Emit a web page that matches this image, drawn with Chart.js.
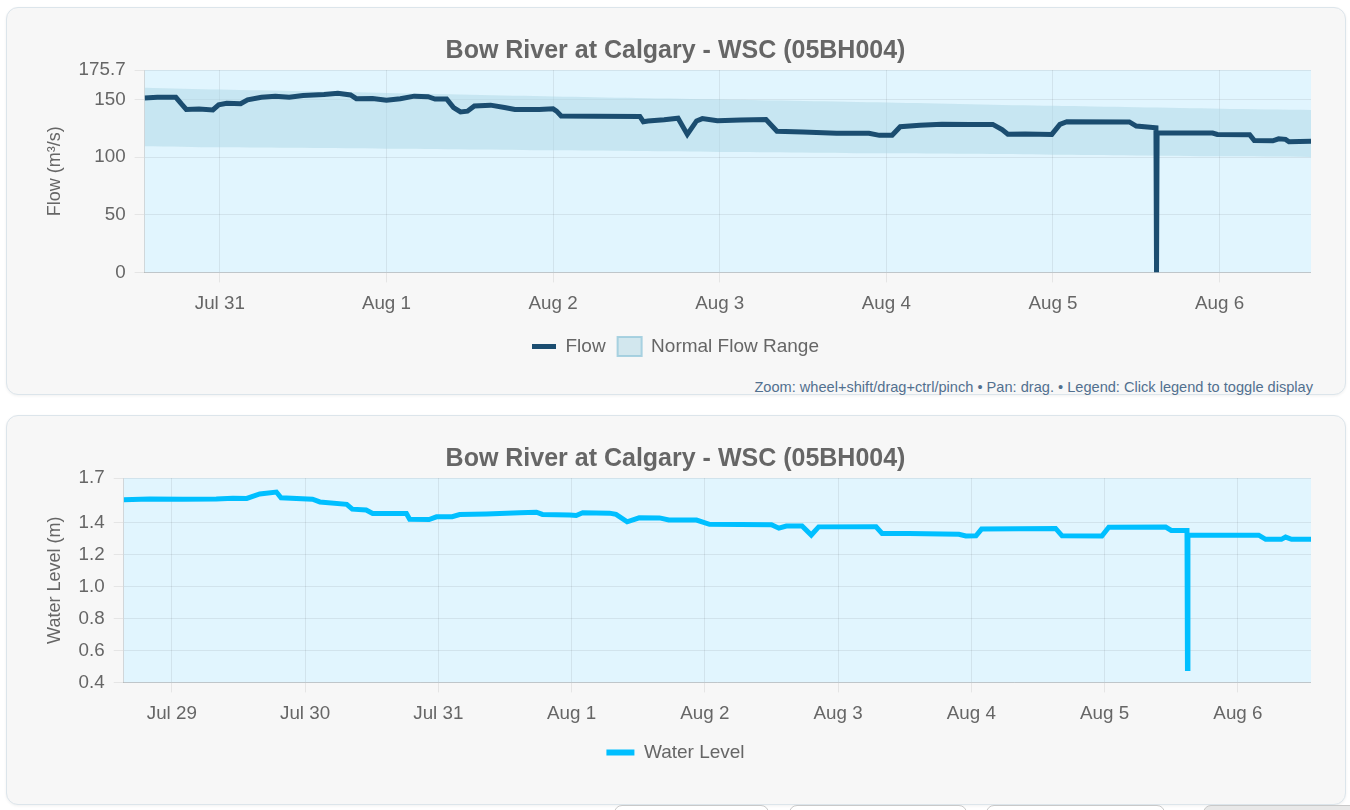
<!DOCTYPE html>
<html>
<head>
<meta charset="utf-8">
<title>Bow River at Calgary</title>
<script src="https://cdn.jsdelivr.net/npm/chart.js@4.4.1/dist/chart.umd.min.js"></script>
<style>
  html, body { margin: 0; padding: 0; background: #fff; overflow: hidden; }
  body { width: 1350px; height: 810px; position: relative; font-family: 'Liberation Sans', Arial, Helvetica, sans-serif; }
  .card {
    position: absolute; left: 6px; width: 1340px; box-sizing: border-box;
    background: #f7f7f7; border: 1px solid #dce5eb; border-radius: 12px;
    box-shadow: 0 1px 3px rgba(0,0,0,0.06);
  }
  .wrap { position: absolute; left: 33px; top: 16px; width: 1271px; }
  .hint {
    position: absolute; right: 32px; top: 371px;
    font-size: 14.6px; color: #52708f; white-space: nowrap;
  }
  .btn {
    position: absolute; top: 805px; height: 30px; box-sizing: border-box;
    background: #fff; border: 1px solid #c9c9c9; border-radius: 8px;
  }
</style>
</head>
<body>

<div class="card" style="top:7px; height:388px;">
  <div class="wrap" style="height:342px;"><canvas id="flowChart"></canvas></div>
  <div class="hint">Zoom: wheel+shift/drag+ctrl/pinch &bull; Pan: drag. &bull; Legend: Click legend to toggle display</div>
</div>

<div class="card" style="top:415px; height:390px;">
  <div class="wrap" style="height:340px;"><canvas id="levelChart"></canvas></div>
</div>

<div class="btn" style="left:614px; width:155px;"></div>
<div class="btn" style="left:789px; width:178px;"></div>
<div class="btn" style="left:986px; width:179px;"></div>
<div class="btn" style="left:1203px; width:160px; background:#e8e8e8;"></div>

<script>
// ---- data ----
var chartTitle = "Bow River at Calgary - WSC (05BH004)";

// flow, last 7 days
var flowTimes = [
  "07-30 13:10","07-30 15:00","07-30 17:40","07-30 18:30","07-30 19:10","07-30 21:00","07-30 23:00","07-30 23:50",
  "07-31 01:00","07-31 03:00","07-31 04:00","07-31 06:00","07-31 08:00","07-31 10:00","07-31 12:00","07-31 15:00",
  "07-31 17:00","07-31 18:50","07-31 19:40","07-31 22:00",
  "08-01 00:00","08-01 02:00","08-01 04:00","08-01 06:00","08-01 07:00","08-01 08:40","08-01 09:40","08-01 10:40",
  "08-01 11:40","08-01 12:40","08-01 15:00","08-01 17:00","08-01 18:30","08-01 22:00",
  "08-02 00:00","08-02 00:30","08-02 01:10","08-02 06:00","08-02 12:30","08-02 13:00","08-02 13:40","08-02 16:00",
  "08-02 18:00","08-02 19:20","08-02 20:40","08-02 21:30","08-02 23:40",
  "08-03 03:00","08-03 06:40","08-03 08:15","08-03 12:00","08-03 16:50","08-03 21:30","08-03 23:00",
  "08-04 00:50","08-04 02:00","08-04 04:50","08-04 08:00","08-04 12:00","08-04 15:20","08-04 16:40","08-04 17:30",
  "08-04 20:00","08-04 23:50",
  "08-05 01:00","08-05 02:00","08-05 11:00","08-05 12:00","08-05 14:50","08-05 14:55","08-05 15:00","08-05 23:00",
  "08-05 23:40",
  "08-06 04:20","08-06 05:00","08-06 07:40","08-06 08:30","08-06 09:30","08-06 10:00","08-06 13:10"
];
var flowValues = [
  151.5, 152.0, 152.0, 146.0, 141.5, 141.8, 141.0, 145.5,
  146.8, 146.5, 149.8, 152.0, 153.0, 152.0, 153.5, 154.5,
  155.5, 154.0, 150.8, 151.0,
  149.5, 150.8, 153.0, 152.5, 150.5, 150.5, 143.0, 139.3,
  140.0, 144.5, 145.2, 143.2, 141.5, 141.5,
  142.0, 140.0, 135.8, 135.5, 135.4, 130.8, 131.5, 132.5,
  133.8, 119.8, 131.5, 133.5, 131.6,
  132.3, 132.8, 122.5, 121.9, 120.8, 120.8, 119.0,
  119.0, 126.5, 127.8, 128.6, 128.3, 128.5, 124.0, 120.0,
  120.2, 119.8,
  128.5, 130.8, 130.6, 127.0, 125.6, 0, 121.2, 121.0,
  119.8,
  119.6, 114.5, 114.2, 116.0, 115.5, 113.4, 113.8
];

// normal flow range
var rangeTimes = ["07-30 13:10","07-31 00:00","08-01 00:00","08-02 00:00","08-03 00:00","08-04 00:00","08-05 00:00","08-06 00:00","08-06 13:10"];
var rangeUpper = [160.4, 158.8, 155.8, 152.8, 150.2, 147.6, 144.6, 142.1, 141.0];
var rangeLower = [109.6, 108.6, 107.4, 106.0, 104.6, 103.4, 102.2, 100.8, 100.2];

// water level
var levelTimes = [
  "07-28 15:20","07-28 20:00","07-29 02:00","07-29 08:00","07-29 11:00","07-29 13:30","07-29 15:50","07-29 18:50",
  "07-29 19:40","07-30 01:20","07-30 02:40","07-30 07:30","07-30 08:30","07-30 11:00","07-30 12:10","07-30 18:15",
  "07-30 18:50","07-30 22:20","07-30 23:40","07-31 02:30","07-31 03:50","07-31 08:40","07-31 14:40","07-31 17:40",
  "07-31 18:45","07-31 23:40","08-01 00:50","08-01 02:00","08-01 06:50","08-01 08:00","08-01 10:00","08-01 12:10",
  "08-01 15:50","08-01 17:30","08-01 22:30","08-02 00:50","08-02 12:00","08-02 13:20","08-02 14:40","08-02 17:30",
  "08-02 19:10","08-02 20:30","08-03 06:50","08-03 07:55","08-03 12:45","08-03 21:45","08-03 23:00","08-04 00:50",
  "08-04 01:50","08-04 15:10","08-04 16:20","08-04 23:30","08-05 00:45","08-05 11:00","08-05 12:00","08-05 14:50",
  "08-05 14:55","08-05 15:00","08-06 03:45","08-06 05:00","08-06 07:50","08-06 08:35","08-06 09:40","08-06 13:10"
];
var levelValues = [
  1.544, 1.548, 1.547, 1.549, 1.553, 1.552, 1.580, 1.592,
  1.556, 1.547, 1.530, 1.515, 1.485, 1.480, 1.458, 1.458,
  1.422, 1.420, 1.437, 1.438, 1.451, 1.455, 1.462, 1.466,
  1.452, 1.449, 1.445, 1.462, 1.460, 1.452, 1.406, 1.431,
  1.430, 1.417, 1.417, 1.390, 1.388, 1.366, 1.379, 1.380,
  1.323, 1.374, 1.375, 1.333, 1.332, 1.328, 1.317, 1.318,
  1.360, 1.364, 1.318, 1.317, 1.372, 1.373, 1.352, 1.352,
  0.487, 1.323, 1.322, 1.296, 1.296, 1.310, 1.296, 1.297
];

// axes
var flowXRange = ["07-30 13:10", "08-06 13:10"];
var flowDayTicks = ["07-31 00:00","08-01 00:00","08-02 00:00","08-03 00:00","08-04 00:00","08-05 00:00","08-06 00:00"];
var flowDayLabels = ["Jul 31","Aug 1","Aug 2","Aug 3","Aug 4","Aug 5","Aug 6"];
var flowYTicks = [0, 50, 100, 150, 175.7];

var levelXRange = ["07-28 15:20", "08-06 13:10"];
var levelDayTicks = ["07-29 00:00","07-30 00:00","07-31 00:00","08-01 00:00","08-02 00:00","08-03 00:00","08-04 00:00","08-05 00:00","08-06 00:00"];
var levelDayLabels = ["Jul 29","Jul 30","Jul 31","Aug 1","Aug 2","Aug 3","Aug 4","Aug 5","Aug 6"];
var levelYTicks = [0.4, 0.6, 0.8, 1.0, 1.2, 1.4, 1.68];

// ---- helpers ----
function toMs(s) {
  return new Date("2024-" + s.replace(" ", "T")).getTime();
}
function points(times, values) {
  return times.map(function (t, i) { return {x: toMs(t), y: values[i]}; });
}

var flowColor = "#1b4d70";
var levelColor = "#00bfff";
var bandFill = "rgba(173, 216, 230, 0.5)";
var bandEdge = "rgba(160, 205, 222, 0.9)";
var textColor = "#666";
var gridColor = "rgba(0, 0, 0, 0.07)";
var axisColor = "rgba(0, 0, 0, 0.13)";

Chart.defaults.font.family = "'Liberation Sans', Arial, Helvetica, sans-serif";
Chart.defaults.color = textColor;

var plotBg = {
  id: "plotBg",
  beforeDraw: function (chart) {
    var a = chart.chartArea;
    var ctx = chart.ctx;
    ctx.save();
    ctx.fillStyle = "#e1f5fe";
    ctx.fillRect(a.left, a.top, a.right - a.left, a.bottom - a.top);
    ctx.restore();
  }
};

function xAxis(range, dayTicks, dayLabels) {
  return {
    type: "linear",
    min: toMs(range[0]),
    max: toMs(range[1]),
    afterBuildTicks: function (axis) {
      axis.ticks = dayTicks.map(function (s) { return {value: toMs(s)}; });
    },
    ticks: {
      autoSkip: false, maxRotation: 0, padding: 10,
      font: {size: 18.8}, color: textColor,
      callback: function (v, i) { return dayLabels[i]; }
    },
    grid: {color: gridColor, tickLength: 10},
    border: {color: axisColor}
  };
}

function yAxis(min, max, yTicks, label, fmt) {
  return {
    min: min, max: max,
    afterBuildTicks: function (axis) {
      axis.ticks = yTicks.map(function (v) { return {value: v}; });
    },
    ticks: {
      padding: 9, font: {size: 18.8}, color: textColor,
      callback: fmt
    },
    grid: {color: gridColor, tickLength: 10},
    border: {color: axisColor},
    title: {display: true, text: label, font: {size: 18}, color: textColor}
  };
}

var titleOpts = {
  display: true, text: chartTitle, color: textColor,
  font: {size: 25, weight: "bold"}, padding: {top: 12, bottom: 4}
};

// ---- flow chart ----
new Chart(document.getElementById("flowChart").getContext("2d"), {
  type: "line",
  data: {
    datasets: [
      {
        label: "Flow",
        data: points(flowTimes, flowValues),
        borderColor: flowColor, backgroundColor: flowColor,
        borderWidth: 5, pointRadius: 0, fill: false, tension: 0
      },
      {
        label: "Normal Flow Range",
        data: points(rangeTimes, rangeUpper),
        borderWidth: 0, borderColor: "rgba(0,0,0,0)", backgroundColor: bandFill,
        pointRadius: 0, fill: "+1", tension: 0.3
      },
      {
        label: "",
        data: points(rangeTimes, rangeLower),
        borderWidth: 0, borderColor: "rgba(0,0,0,0)", backgroundColor: bandFill,
        pointRadius: 0, fill: false, tension: 0.3
      }
    ]
  },
  options: {
    responsive: true,
    maintainAspectRatio: false,
    animation: false,
    plugins: {
      title: titleOpts,
      tooltip: {enabled: false},
      legend: {
        position: "bottom",
        labels: {
          usePointStyle: true, pointStyleWidth: 24, boxHeight: 21, padding: 12,
          font: {size: 19}, color: textColor,
          generateLabels: function () {
            return [
              {text: "Flow", fontColor: textColor, pointStyle: "line", strokeStyle: flowColor, fillStyle: flowColor, lineWidth: 5, datasetIndex: 0},
              {text: "Normal Flow Range", fontColor: textColor, pointStyle: "rect", strokeStyle: bandEdge, fillStyle: bandFill, lineWidth: 2, datasetIndex: 1}
            ];
          }
        }
      }
    },
    scales: {
      x: xAxis(flowXRange, flowDayTicks, flowDayLabels),
      y: yAxis(0, 175.7, flowYTicks, "Flow (m³/s)", function (v) { return String(v); })
    }
  },
  plugins: [plotBg]
});

// ---- water level chart ----
new Chart(document.getElementById("levelChart").getContext("2d"), {
  type: "line",
  data: {
    datasets: [
      {
        label: "Water Level",
        data: points(levelTimes, levelValues),
        borderColor: levelColor, backgroundColor: levelColor,
        borderWidth: 5, pointRadius: 0, fill: false, tension: 0
      }
    ]
  },
  options: {
    responsive: true,
    maintainAspectRatio: false,
    animation: false,
    plugins: {
      title: titleOpts,
      tooltip: {enabled: false},
      legend: {
        position: "bottom",
        labels: {
          usePointStyle: true, pointStyleWidth: 28, boxHeight: 21, padding: 8,
          font: {size: 19}, color: textColor,
          generateLabels: function () {
            return [
              {text: "Water Level", fontColor: textColor, pointStyle: "line", strokeStyle: levelColor, fillStyle: levelColor, lineWidth: 6, datasetIndex: 0}
            ];
          }
        }
      }
    },
    scales: {
      x: xAxis(levelXRange, levelDayTicks, levelDayLabels),
      y: yAxis(0.4, 1.68, levelYTicks, "Water Level (m)", function (v) { return v.toFixed(1); })
    }
  },
  plugins: [plotBg]
});
</script>
</body>
</html>
